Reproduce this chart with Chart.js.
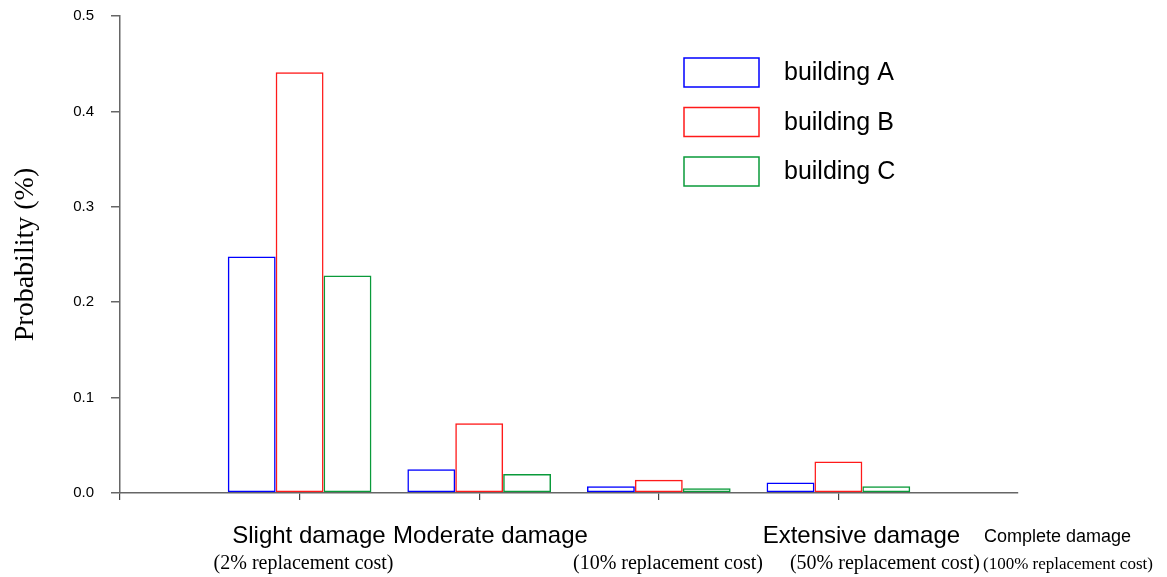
<!DOCTYPE html>
<html>
<head>
<meta charset="utf-8">
<script src="https://cdn.jsdelivr.net/npm/chart.js@4/dist/chart.umd.min.js"></script>
<style>
  html, body { margin: 0; padding: 0; background: #fff; }
  #wrap { width: 1167px; height: 577px; position: relative; }
</style>
</head>
<body>
<div id="wrap"><canvas id="c"></canvas></div>
<script>
// ---- data ----
const categories = ['Slight damage', 'Moderate damage', 'Extensive damage', 'Complete damage'];
const costLabels = ['(2% replacement cost)', '(10% replacement cost)', '(50% replacement cost)', '(100% replacement cost)'];
const seriesNames = ['building A', 'building B', 'building C'];
const buildingA = [0.248, 0.025, 0.007, 0.011];
const buildingB = [0.441, 0.073, 0.014, 0.033];
const buildingC = [0.228, 0.020, 0.005, 0.007];
const yTicks = [0.0, 0.1, 0.2, 0.3, 0.4, 0.5];

// ---- styling ----
const colors = ['#0000ff', '#ff1a1a', '#0a9a3a'];
const SANS = "'Liberation Sans', Arial, sans-serif";
const SERIF = "'Liberation Serif', 'Times New Roman', serif";

// axis has an empty slot before and after the four groups
const labels = [''].concat(categories, ['']);
const pad = arr => [null].concat(arr, [null]);

const datasets = [buildingA, buildingB, buildingC].map((vals, i) => ({
  label: seriesNames[i],
  data: pad(vals),
  backgroundColor: 'rgba(255,255,255,0)',
  borderColor: colors[i],
  borderWidth: 1.5,
  borderSkipped: false,
  categoryPercentage: 0.8,
  barPercentage: 1.0
}));

// text placement under the axis (in category-index units)
const line1Pos = [1.052, 2.063, 4.128, 5.220];
const line1Size = [24, 24, 24, 18];
const line2Pos = [1.022, 3.051, 4.259, 5.278];
const line2Size = [20, 20, 20, 17];

const axisTextPlugin = {
  id: 'axisText',
  afterDraw(chart) {
    const ctx = chart.ctx;
    const x = chart.scales.x;
    const base = chart.chartArea.bottom;
    ctx.save();
    ctx.fillStyle = '#000';
    ctx.textAlign = 'center';
    ctx.textBaseline = 'alphabetic';
    categories.forEach((t, i) => {
      ctx.font = line1Size[i] + 'px ' + SANS;
      ctx.fillText(t, x.getPixelForValue(line1Pos[i]), base + (i === 3 ? 49 : 50));
    });
    costLabels.forEach((t, i) => {
      ctx.font = line2Size[i] + 'px ' + SERIF;
      ctx.fillText(t, x.getPixelForValue(line2Pos[i]), base + 76);
    });
    ctx.restore();
  }
};

const legendPlugin = {
  id: 'boxLegend',
  afterDraw(chart) {
    const ctx = chart.ctx;
    const a = chart.chartArea;
    const left = a.left + 564, top = a.top + 42, step = 49.5, bw = 75, bh = 29;
    ctx.save();
    chart.data.datasets.forEach((ds, i) => {
      const y = top + i * step;
      ctx.strokeStyle = ds.borderColor;
      ctx.lineWidth = 1.5;
      ctx.strokeRect(left, y, bw, bh);
      ctx.fillStyle = '#000';
      ctx.font = '25px ' + SANS;
      ctx.textAlign = 'left';
      ctx.textBaseline = 'middle';
      ctx.fillText(ds.label, left + bw + 25, y + bh / 2 + 1);
    });
    ctx.restore();
  }
};

new Chart(document.getElementById('c'), {
  type: 'bar',
  data: { labels, datasets },
  options: {
    responsive: true,
    maintainAspectRatio: false,
    animation: false,
    layout: { padding: { left: 0, top: 16, right: 149, bottom: 0 } },
    plugins: { legend: { display: false }, tooltip: { enabled: false } },
    scales: {
      x: {
        type: 'category',
        offset: false,
        afterFit: s => { s.height = 84; s.paddingLeft = 0; s.paddingRight = 0; },
        ticks: { display: false },
        grid: {
          display: true,
          drawOnChartArea: false,
          drawTicks: true,
          tickLength: 7,
          offset: false,
          lineWidth: 1.2,
          color: c => (c.index === labels.length - 1 ? 'rgba(0,0,0,0)' : '#444')
        },
        border: { display: true, color: '#666', width: 1.5 }
      },
      y: {
        min: 0,
        max: 0.5,
        afterFit: s => { s.width = 120; s.paddingTop = 0; s.paddingBottom = 0; },
        afterBuildTicks: s => { s.ticks = yTicks.map(v => ({ value: v })); },
        ticks: {
          padding: 17,
          color: '#000',
          font: { family: SANS, size: 15 },
          callback: v => Number(v).toFixed(1)
        },
        grid: {
          display: true,
          drawOnChartArea: false,
          drawTicks: true,
          tickLength: 9,
          lineWidth: 1.5,
          color: '#666'
        },
        border: { display: true, color: '#666', width: 1.5 },
        title: {
          display: true,
          text: 'Probability (%)',
          color: '#000',
          font: { family: SERIF, size: 28 },
          padding: { top: 9, bottom: 0 }
        }
      }
    }
  },
  plugins: [axisTextPlugin, legendPlugin]
});
</script>
</body>
</html>
